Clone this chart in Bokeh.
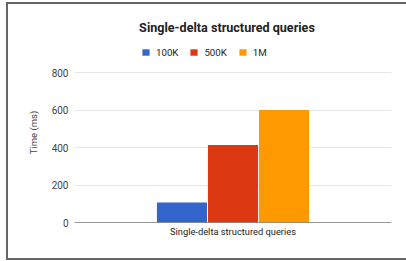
from bokeh.plotting import figure
from bokeh.models import (FactorRange, Range1d, Legend, LegendItem, Span,
                          FixedTicker, ColumnDataSource, InlineStyleSheet)
from bokeh.transform import dodge
from bokeh.embed import file_html
from bokeh.resources import INLINE

# ---- data ----
categories = ["Single-delta structured queries"]
series = ["100K", "500K", "1M"]
values_100k = [107]
values_500k = [413]
values_1m = [600]
y_ticks = [0, 200, 400, 600, 800]
colors = ["#3366cc", "#dc3912", "#ff9900"]

FONT = "Roboto"

source = ColumnDataSource(data=dict(cat=categories, v100k=values_100k,
                                    v500k=values_500k, v1m=values_1m))

# frame extends above the 800 line so that the legend row sits inside it
p = figure(width=398, height=254, output_backend="svg", toolbar_location=None,
           x_range=FactorRange(factors=categories), y_range=Range1d(0, 960),
           min_border_left=66, min_border_right=15, min_border_bottom=36,
           min_border_top=38)

p.stylesheets = [InlineStyleSheet(css=":host { margin-left: 8px; margin-top: 4px; "
                                      "box-shadow: 0 0 0 2px #666666; }")]

p.title.text = "Single-delta structured queries"
p.title.align = "center"
p.title.offset = -46
p.title.padding = (6, 18, 0, 0)
p.title.text_font = FONT
p.title.text_font_size = "12.6px"
p.title.text_font_style = "bold"
p.title.text_color = "#222222"
p.title.standoff = 15

offsets = [-0.161, 0.0, 0.161]
cols = ["v100k", "v500k", "v1m"]
renderers = []
for col, off, c in zip(cols, offsets, colors):
    r = p.vbar(x=dodge("cat", off, range=p.x_range), top=col, width=0.158,
               source=source, fill_color=c, line_color=None)
    renderers.append(r)

legend = Legend(items=[LegendItem(label=s, renderers=[r]) for s, r in zip(series, renderers)],
                orientation="horizontal", location=(67, 164),
                label_text_font=FONT, label_text_font_size="9.7px",
                label_text_color="#222222",
                glyph_width=9, glyph_height=8, label_height=12,
                label_standoff=6, spacing=11, padding=0, margin=0,
                border_line_color=None, background_fill_alpha=0)
p.add_layout(legend, "center")

p.add_layout(Span(location=0, dimension="width", line_color="#333333", line_width=1))

p.outline_line_color = None
p.xgrid.grid_line_color = None
p.ygrid.grid_line_color = "#e6e6e6"
p.yaxis.ticker = FixedTicker(ticks=y_ticks)
p.yaxis.bounds = (-50, 800)

for ax in (p.xaxis[0], p.yaxis[0]):
    ax.axis_line_color = None
    ax.major_tick_line_color = None
    ax.minor_tick_line_color = None
    ax.major_label_text_font = FONT

p.yaxis.major_label_text_font_size = "10px"
p.yaxis.major_label_text_color = "#444444"
p.yaxis.major_label_standoff = 0
p.yaxis.axis_label = "Time (ms)"
p.yaxis.axis_label_text_font = FONT
p.yaxis.axis_label_text_font_size = "9.5px"
p.yaxis.axis_label_text_font_style = "normal"
p.yaxis.axis_label_text_color = "#444444"
p.yaxis.axis_label_standoff = 10

p.xaxis.major_label_text_font_size = "9.3px"
p.xaxis.major_label_text_color = "#222222"
p.xaxis.major_label_standoff = -3

open("out.html", "w").write(file_html(p, INLINE))
